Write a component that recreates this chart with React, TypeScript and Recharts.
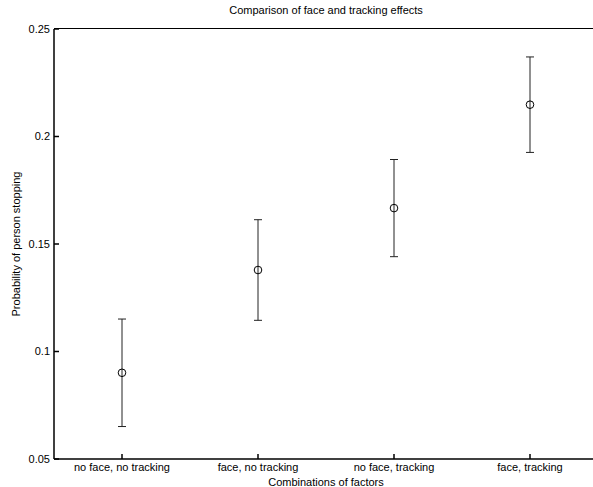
import { ComposedChart, Scatter, ErrorBar, XAxis, YAxis } from 'recharts'

const categories = ['no face, no tracking', 'face, no tracking', 'no face, tracking', 'face, tracking']
const positions = [1, 2, 3, 4]
const means = [0.0901, 0.1379, 0.1667, 0.2148]
const errors = [0.025, 0.0234, 0.0226, 0.0222]
const yTicks = [0.05, 0.1, 0.15, 0.2, 0.25]
const xDomain = [0.5, 4.5]
const yDomain = [0.05, 0.25]

const FONT = '"Liberation Sans", Arial, Helvetica, sans-serif'

const chartData = positions.map((x, i) => ({ x, y: means[i], err: errors[i] }))

// open circle marker, like matlab 'o'
const OpenCircle = (props: any) => {
  const { cx, cy } = props
  return <circle cx={cx} cy={cy} r={3.8} fill="none" stroke="#000" strokeWidth={1} />
}

export default function App() {
  return (
    <div style={{ position: 'absolute', left: 0, top: 0, width: 593, height: 487, overflow: 'hidden', background: '#fff', fontFamily: FONT }}>
      <div style={{ position: 'absolute', left: 54, width: 544, top: 4, textAlign: 'center', fontSize: 11, color: '#000' }}>
        Comparison of face and tracking effects
      </div>
      <ComposedChart
        width={610}
        height={487}
        data={chartData}
        margin={{ top: 29, right: 12, left: 0, bottom: 0 }}
        style={{ position: 'absolute', left: 0, top: 0, fontFamily: FONT }}
      >
        <XAxis
          dataKey="x"
          type="number"
          domain={xDomain}
          ticks={positions}
          interval={0}
          tickFormatter={(v: number) => categories[v - 1]}
          height={28}
          tickSize={-5}
          tickMargin={9}
          stroke="#000"
          strokeWidth={1.5}
          tick={{ fill: '#000', fontSize: 11 }}
          label={{ value: 'Combinations of factors', position: 'insideBottom', offset: 1, fill: '#000', fontSize: 11 }}
        />
        <YAxis
          type="number"
          domain={yDomain}
          ticks={yTicks}
          interval={0}
          width={54}
          tickSize={-5}
          tickMargin={9}
          stroke="#000"
          strokeWidth={1.5}
          tick={{ fill: '#000', fontSize: 11 }}
          label={{ value: 'Probability of person stopping', angle: -90, position: 'insideLeft', offset: 16, fill: '#000', fontSize: 11, style: { textAnchor: 'middle' } }}
        />
        <Scatter
          data={chartData}
          dataKey="y"
          shape={OpenCircle}
          isAnimationActive={false}
        >
          <ErrorBar dataKey="err" direction="y" width={4} stroke="#222" strokeWidth={1} isAnimationActive={false} />
        </Scatter>
      </ComposedChart>
      {/* top and right edges of the matlab axes box */}
      <div
        style={{
          position: 'absolute',
          left: 54,
          top: 28,
          width: 543,
          height: 430,
          borderTop: '1.5px solid #000',
          borderRight: '1.5px solid #000',
          pointerEvents: 'none',
        }}
      />
    </div>
  )
}
